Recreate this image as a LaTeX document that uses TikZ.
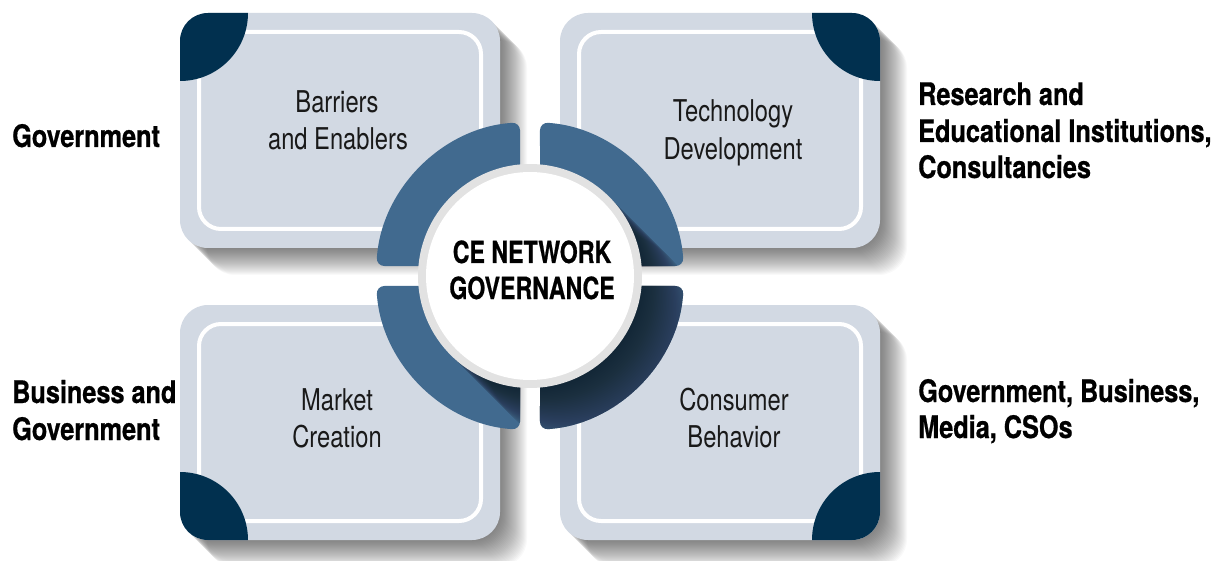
\documentclass[tikz,border=0pt]{standalone}
\usepackage{fontspec}
\setmainfont{TeX Gyre Heros}
\newfontfamily\regcn{TeX Gyre Heros}[FakeStretch=0.79]
\newfontfamily\boldcn{TeX Gyre Heros}[FakeStretch=0.815, BoldFeatures={FakeBold=0.6}]
\newfontfamily\corecn{TeX Gyre Heros}[FakeStretch=0.76, BoldFeatures={FakeBold=0.6}]
\definecolor{boxfill}{HTML}{D2D9E3}
\definecolor{navy}{HTML}{01304F}
\definecolor{segblue}{HTML}{416A8F}
\definecolor{rimgray}{HTML}{E2E2E2}
\tikzset{
  boxlabel/.style={font=\regcn\fontsize{30}{36}\selectfont, text=black!90, inner sep=0, anchor=base},
  corelabel/.style={font=\corecn\bfseries\fontsize{30.5}{36}\selectfont, text=black, inner sep=0, anchor=base},
  sidelabel/.style={font=\boldcn\bfseries\fontsize{31}{36}\selectfont, text=black, inner sep=0, anchor=base west},
  panel/.style={fill=boxfill, rounded corners=28},
  panelline/.style={draw=white, line width=4, rounded corners=22},
  segment/.style={fill=segblue, rounded corners=8}
}
\newcommand{\segsetup}[1]{%
  \pgfmathsetmacro{\sa}{#1+3.72}\pgfmathsetmacro{\ea}{#1+86.28}\pgfmathsetmacro{\ca}{#1+45}}
\newcommand{\segpath}{(\ca:14.142) -- (\sa:154) arc[start angle=\sa, end angle=\ea, radius=154] -- cycle}
\begin{document}
\begin{tikzpicture}[x=1pt,y=1pt]
\useasboundingbox (0,0) rectangle (1222,560);
% long shadows of the panels
\foreach \x/\y in {180/312, 560/312, 180/20, 560/20}{
  \foreach \k in {1,...,27}{
    \fill[black, opacity=0.024, rounded corners=28] (\x+\k,\y-\k) rectangle ++(320,235);
  }
}
% panels
\foreach \x/\y in {180/312, 560/312, 180/20, 560/20}{
  \fill[panel] (\x,\y) rectangle ++(320,235);
  \draw[panelline] (\x+19,\y+19) rectangle (\x+301,\y+216);
}
% navy corner discs
\begin{scope}
  \clip[rounded corners=28] (180,312) rectangle ++(320,235);
  \fill[navy] (180,547) circle[radius=68];
\end{scope}
\begin{scope}
  \clip[rounded corners=28] (560,312) rectangle ++(320,235);
  \fill[navy] (880,547) circle[radius=68];
\end{scope}
\begin{scope}
  \clip[rounded corners=28] (180,20) rectangle ++(320,235);
  \fill[navy] (180,20) circle[radius=68];
\end{scope}
\begin{scope}
  \clip[rounded corners=28] (560,20) rectangle ++(320,235);
  \fill[navy] (880,20) circle[radius=68];
\end{scope}
% ring segments
\begin{scope}[shift={(530,284)}]
  \foreach \a in {0,90,180,270}{
    \segsetup{\a}
    \path[segment] \segpath;
  }
  % long shadow of the centre disc on the segments
  \foreach \a in {0,270,180}{
    \segsetup{\a}
    \begin{scope}
      \clip[rounded corners=8] \segpath;
      \foreach \t in {2,4,...,90}{
        \fill[black, opacity=0.017] ({\t*0.7071},{-\t*0.7071}) circle[radius=112];
      }
    \end{scope}
  }
  \fill[rimgray] (0,0) circle[radius=112];
  \fill[white] (0,0) circle[radius=104];
\end{scope}
% core label
\node[corelabel] (ce1) at (532,297) {CE NETWORK};
\node[corelabel] (ce2) at (532,261) {GOVERNANCE};
% panel labels
\node[boxlabel] (tl1) at (337,447) {Barriers};
\node[boxlabel] (tl2) at (338,410) {and Enablers};
\node[boxlabel] (tr1) at (733,438) {Technology};
\node[boxlabel] (tr2) at (733,400) {Development};
\node[boxlabel] (bl1) at (337,150) {Market};
\node[boxlabel] (bl2) at (337,113) {Creation};
\node[boxlabel] (br1) at (734,150) {Consumer};
\node[boxlabel] (br2) at (734,113) {Behavior};
% side labels
\node[sidelabel] (g1) at (12,413) {Government};
\node[sidelabel] (bg1) at (12,157) {Business and};
\node[sidelabel] (bg2) at (12,120) {Government};
\node[sidelabel] (r1) at (918,455) {Research and};
\node[sidelabel] (r2) at (918,418) {Educational Institutions,};
\node[sidelabel] (r3) at (918,382) {Consultancies};
\node[sidelabel] (gb1) at (918,158) {Government, Business,};
\node[sidelabel] (gb2) at (918,122) {Media, CSOs};
\end{tikzpicture}
\end{document}
